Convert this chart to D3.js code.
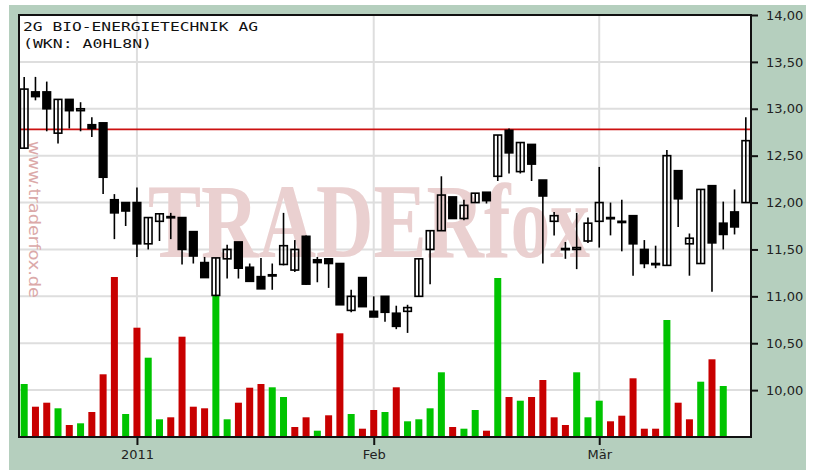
<!DOCTYPE html>
<html><head><meta charset="utf-8">
<script src="https://cdn.jsdelivr.net/npm/d3@7"></script>
<style>html,body{margin:0;padding:0;background:#fff;}svg{display:block;}</style>
</head><body>
<svg id="c" width="815" height="470"></svg>
<script>
const dates = [
"2010-12-16","2010-12-17","2010-12-20","2010-12-21","2010-12-22","2010-12-23","2010-12-27","2010-12-28","2010-12-29","2010-12-30",
"2011-01-03","2011-01-04","2011-01-05","2011-01-06","2011-01-07","2011-01-10","2011-01-11","2011-01-12","2011-01-13","2011-01-14",
"2011-01-17","2011-01-18","2011-01-19","2011-01-20","2011-01-21","2011-01-24","2011-01-25","2011-01-26","2011-01-27","2011-01-28","2011-01-31",
"2011-02-01","2011-02-02","2011-02-03","2011-02-04","2011-02-07","2011-02-08","2011-02-09","2011-02-10","2011-02-11",
"2011-02-14","2011-02-15","2011-02-16","2011-02-17","2011-02-18","2011-02-21","2011-02-22","2011-02-23","2011-02-24","2011-02-25","2011-02-28",
"2011-03-01","2011-03-02","2011-03-03","2011-03-04","2011-03-07","2011-03-08","2011-03-09","2011-03-10","2011-03-11",
"2011-03-14","2011-03-15","2011-03-16","2011-03-17","2011-03-18"];
const open  = [12.58,13.18,13.18,12.74,13.10,12.98,12.83,12.85,12.03,12.00,
  12.00,11.56,11.80,11.85,11.84,11.69,11.36,11.01,11.40,11.58,
  11.31,11.21,11.22,11.34,11.28,11.64,11.39,11.40,11.35,10.85,11.20,
  10.84,11.00,10.82,10.84,11.00,11.50,11.70,12.06,11.83,
  12.00,12.11,12.28,12.77,12.33,12.62,12.24,11.80,11.51,11.50,11.59,
  11.80,11.84,11.80,11.86,11.50,11.35,11.33,12.34,11.56,
  11.35,12.18,11.78,11.90,12.00];
const high  = [13.34,13.34,13.29,13.10,13.10,13.07,12.91,12.85,12.09,12.00,
  12.16,11.84,11.88,11.89,11.84,11.69,11.42,11.41,11.55,11.58,
  11.35,11.41,11.35,11.89,11.60,11.65,11.42,11.40,11.35,11.07,11.20,
  11.00,11.00,10.90,10.91,11.40,11.70,12.28,12.06,12.03,
  12.10,12.11,12.72,12.79,12.64,12.62,12.24,11.90,11.58,11.89,11.84,
  12.38,12.00,12.03,11.86,11.60,11.54,12.56,12.34,11.67,
  12.14,12.18,12.01,12.14,12.91];
const low   = [12.57,13.09,12.76,12.63,12.79,12.76,12.70,12.09,11.61,11.75,
  11.42,11.50,11.59,11.61,11.34,11.35,11.20,11.00,11.19,11.19,
  11.16,11.08,11.07,11.33,11.26,11.12,11.15,11.09,10.91,10.83,10.89,
  10.78,10.73,10.65,10.61,11.00,11.13,11.70,11.83,11.81,
  12.00,11.99,12.23,12.31,12.31,12.23,11.35,11.65,11.40,11.29,11.57,
  11.52,11.65,11.48,11.22,11.30,11.30,11.33,11.74,11.22,
  11.35,11.05,11.50,11.66,12.00];
const close = [13.21,13.13,13.00,13.10,12.98,13.00,12.79,12.27,11.89,11.91,
  11.56,11.84,11.88,11.84,11.50,11.43,11.20,11.41,11.50,11.30,
  11.16,11.08,11.23,11.54,11.50,11.13,11.36,11.35,10.91,11.00,10.89,
  10.78,10.83,10.68,10.88,11.40,11.70,12.08,11.83,11.97,
  12.10,12.02,12.72,12.53,12.64,12.41,12.07,11.86,11.50,11.52,11.78,
  12.00,11.83,11.79,11.56,11.35,11.34,12.50,12.04,11.62,
  12.14,11.57,11.66,11.74,12.66];
const volume = [5300,3030,3430,2870,1200,1370,2500,6270,16000,2300,
  10930,7930,1770,1970,10030,3030,2870,14200,1770,3430,
  4930,5300,4970,4000,1000,1970,630,2170,10370,2300,830,
  2700,2500,4970,1570,1770,2870,6470,1000,830,
  2700,630,15900,4000,3630,4000,5700,1970,1200,6470,1970,
  3630,1570,2130,5870,830,830,11700,3430,1770,
  5530,7770,5100,null,null];
const priceTicks = [10.0,10.5,11.0,11.5,12.0,12.5,13.0,13.5,14.0];
const monthTickDates = ["2011-01-03","2011-02-01","2011-03-01"];
const monthTickLabels = ["2011","Feb","Mär"];
const resistance = 12.78;
const titleLines = ["2G BIO-ENERGIETECHNIK AG","(WKN: A0HL8N)"];
const watermark = "TRADERfox";
const watermarkUrl = "www.traderfox.de";

const svg = d3.select("#c");
const L = 19, R = 751, T = 15, B = 437;
const x = d3.scalePoint().domain(dates).range([L, R]).padding(0.46);
const y = d3.scaleLinear().domain([9.5, 14]).range([B, T]);
const v = d3.scaleLinear().domain([0, 16000]).range([B, 277]);

svg.append("rect").attr("x",9).attr("y",5).attr("width",797).attr("height",465).attr("fill","#b5cfbe");
svg.append("rect").attr("x",L).attr("y",T).attr("width",R-L).attr("height",B-T).attr("fill","#fff");

// grid
svg.append("g").selectAll("line").data(priceTicks.filter(d=>d<14)).join("line")
  .attr("x1",L).attr("x2",R).attr("y1",d=>y(d)).attr("y2",d=>y(d))
  .attr("stroke","#dedede").attr("stroke-width",2);
svg.append("g").selectAll("line").data(monthTickDates).join("line")
  .attr("x1",d=>x(d)).attr("x2",d=>x(d)).attr("y1",T).attr("y2",B)
  .attr("stroke","#dedede").attr("stroke-width",2);

// watermark
svg.append("text").attr("x",148).attr("y",257).attr("textLength",442).attr("lengthAdjust","spacingAndGlyphs")
  .attr("font-family","Liberation Serif").attr("font-weight","bold").attr("font-size",106)
  .attr("fill","#ead0d0").text(watermark);
svg.append("text").attr("transform","translate(29,141) rotate(90)")
  .attr("textLength",157).attr("lengthAdjust","spacingAndGlyphs")
  .attr("font-family","DejaVu Sans").attr("font-size",16).attr("fill","#dba9a9").text(watermarkUrl);

// volume
const bars = dates.map((d,i)=>({d,i,vol:volume[i],up: i===0 ? close[i]>=open[i] : close[i]>=close[i-1]})).filter(o=>o.vol!=null);
svg.append("g").selectAll("rect").data(bars).join("rect")
  .attr("x",o=>x(o.d)-3.5).attr("width",7)
  .attr("y",o=>v(o.vol)).attr("height",o=>B-v(o.vol))
  .attr("fill",o=>o.up?"#00c400":"#c80000");

// resistance line
svg.append("line").attr("x1",L).attr("x2",R).attr("y1",y(resistance)).attr("y2",y(resistance))
  .attr("stroke","#cc1010").attr("stroke-width",1.6);

// candles
const candles = dates.map((d,i)=>({d,o:open[i],h:high[i],l:low[i],c:close[i]}));
const cg = svg.append("g").selectAll("g").data(candles).join("g");
cg.append("line").attr("x1",k=>x(k.d)).attr("x2",k=>x(k.d))
  .attr("y1",k=>y(k.h)).attr("y2",k=>y(k.l)).attr("stroke","#000").attr("stroke-width",1.6);
cg.append("rect").attr("x",k=>x(k.d)-3.8).attr("width",7.6)
  .attr("y",k=>y(Math.max(k.o,k.c))).attr("height",k=>Math.max(1.2,Math.abs(y(k.o)-y(k.c))))
  .attr("fill",k=>k.c>=k.o?"none":"#000").attr("stroke","#000").attr("stroke-width",1.6);

// frame
svg.append("rect").attr("x",L).attr("y",T).attr("width",R-L).attr("height",B-T)
  .attr("fill","none").attr("stroke","#111").attr("stroke-width",2);

// axes
const fmt = d=>d.toFixed(2).replace(".",",");
const ya = svg.append("g").attr("transform",`translate(${R},0)`)
  .call(d3.axisRight(y).tickValues(priceTicks).tickFormat(fmt).tickSize(7).tickPadding(8));
const labelOf = new Map(monthTickDates.map((d,i)=>[d,monthTickLabels[i]]));
const xa = svg.append("g").attr("transform",`translate(0,${B})`)
  .call(d3.axisBottom(x).tickValues(monthTickDates).tickFormat(d=>labelOf.get(d)).tickSize(8).tickPadding(5));
[ya,xa].forEach(g=>{
  g.select(".domain").remove();
  g.selectAll(".tick line").attr("stroke","#111").attr("stroke-width",2);
  g.selectAll(".tick text").attr("font-family","DejaVu Sans").attr("font-size",13).attr("fill","#222");
});

// title
svg.append("g").selectAll("text").data(titleLines).join("text")
  .attr("x",23).attr("y",(d,i)=>31+i*17)
  .attr("textLength",(d,i)=>i===0?235:129).attr("lengthAdjust","spacingAndGlyphs")
  .attr("font-family","DejaVu Sans Mono").attr("font-size",12).attr("fill","#111").text(d=>d);
</script>
</body></html>
